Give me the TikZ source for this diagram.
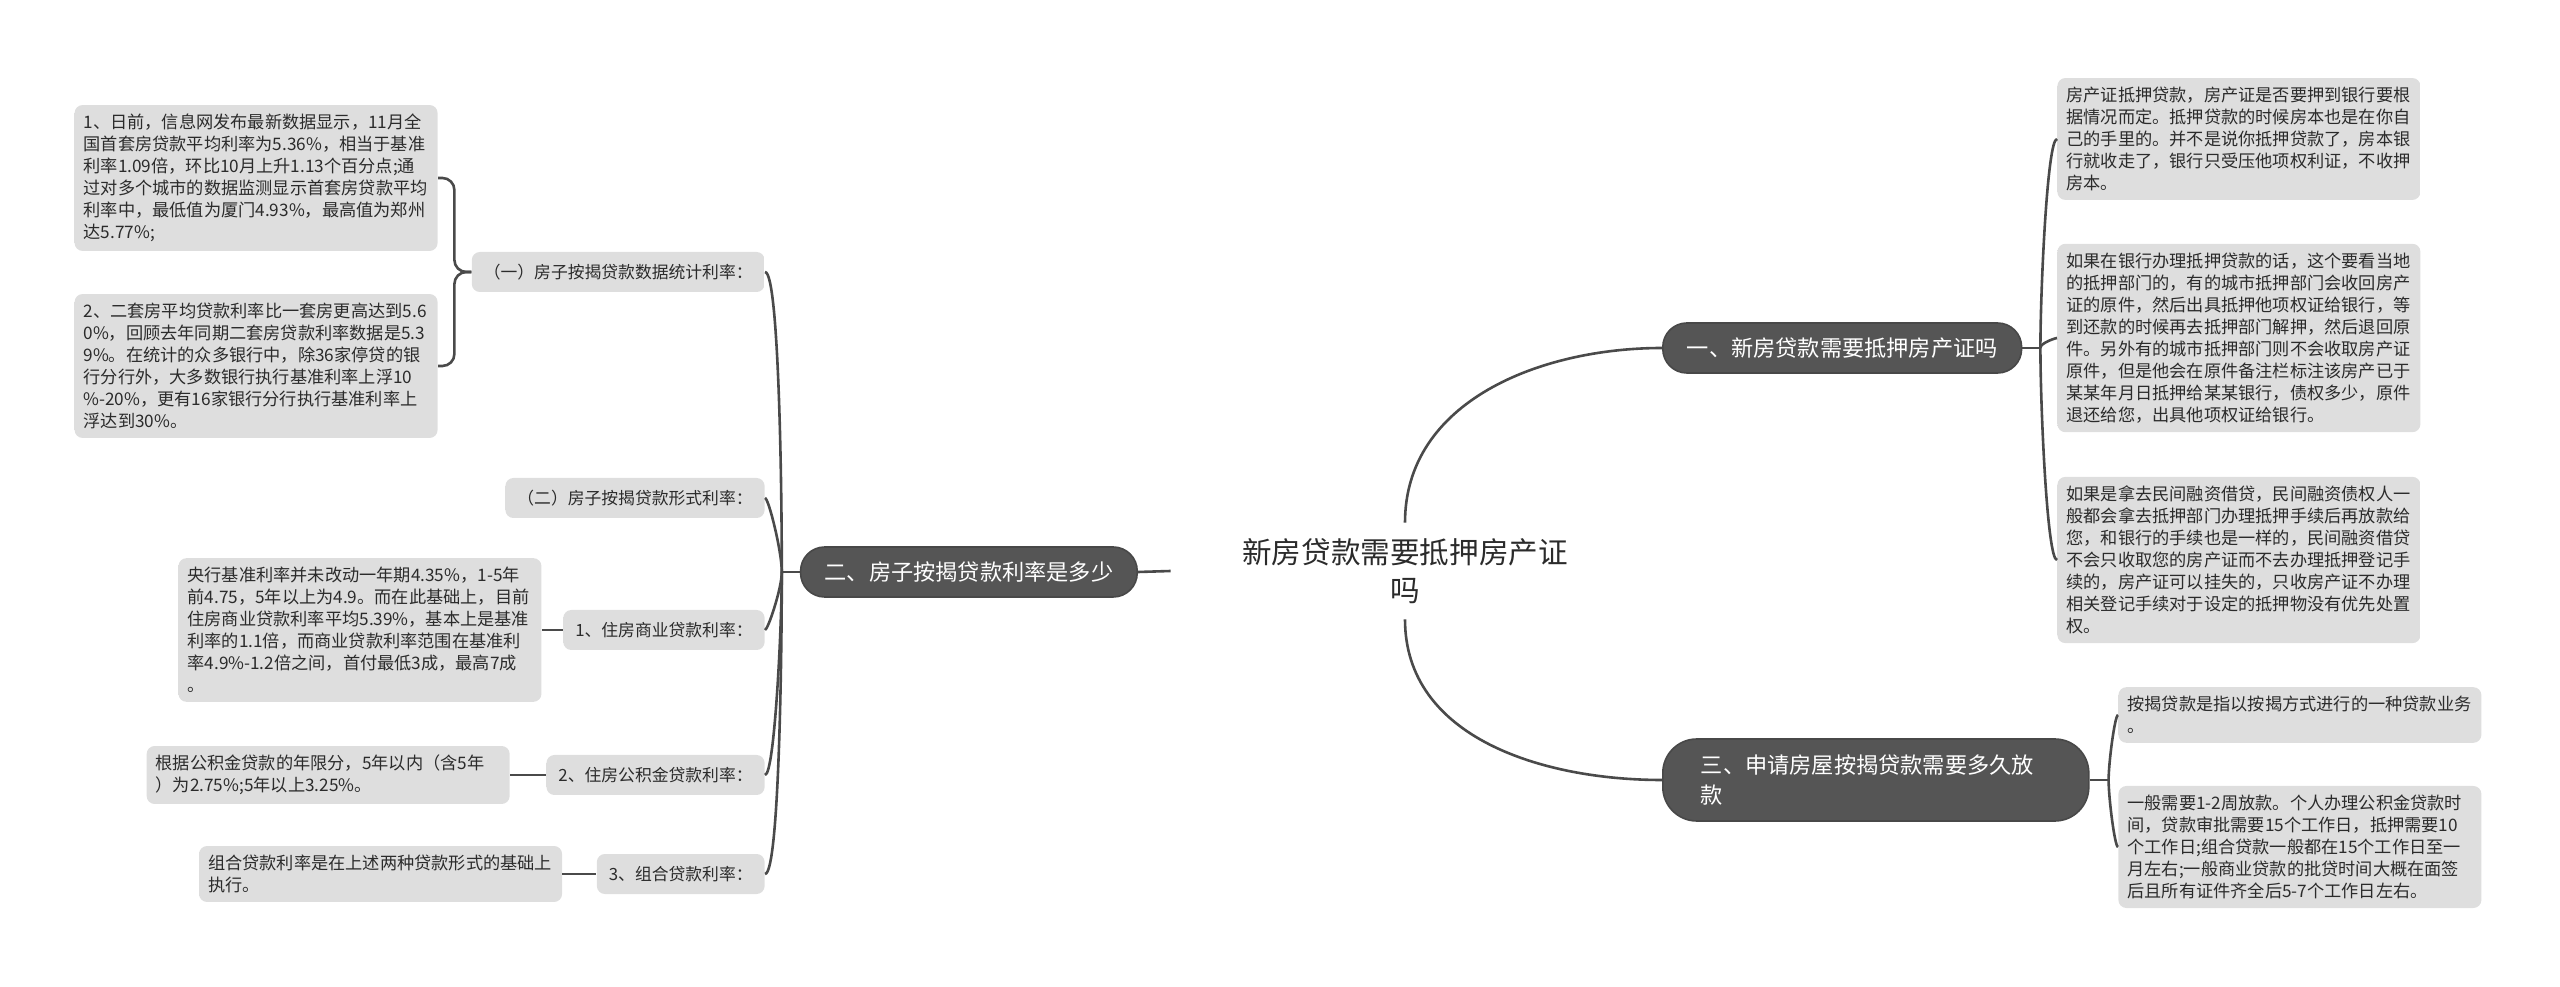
\documentclass[tikz,border=0pt]{standalone}
\usepackage{fontspec}
\setmainfont{Noto Sans CJK SC}
\usetikzlibrary{positioning}
\definecolor{leafgray}{HTML}{DEDEDE}
\definecolor{topicgray}{HTML}{555555}
\definecolor{linegray}{HTML}{4A4A4A}
\definecolor{inkgray}{HTML}{2B2B2B}
\tikzset {
    style leaf/.style={
        top color=leafgray,
        bottom color=leafgray,
        draw=none,
        rectangle, % Set the shape as a rectangle
        rounded corners=4pt,
        text=inkgray,
        font=\fontsize{8.6}{11}\selectfont,
        text width=172.5pt,
        inner xsep=4.5pt,
        inner ysep=4.5pt,
        align=left,
    },
    style sub/.style={
        top color=leafgray,
        bottom color=leafgray,
        draw=none,
        rectangle, % Set the shape as a rectangle
        rounded corners=4pt,
        text=inkgray,
        font=\fontsize{8.4}{10}\selectfont,
        inner xsep=6pt,
        minimum height=20pt,
    },
    style topic/.style={
        top color=topicgray,
        bottom color=topicgray,
        draw=topicgray!85!black,
        thick,
        text=white,
        rectangle, % Set the shape as a rectangle
        rounded corners=12pt,
        font=\fontsize{11.1}{15}\selectfont,
        inner xsep=12pt,
        minimum height=25pt,
        align=left,
    },
    style root/.style={
        text=inkgray,
        font=\fontsize{14.8}{19}\selectfont,
        minimum width=234pt,
        minimum height=48pt,
        align=center,
    },
    style link/.style={draw=linegray, line width=1.3pt},
    curve ru/.style={out=90, in=180, out looseness=0.7, in looseness=0.12},
    curve rd/.style={out=-90, in=180, out looseness=0.7, in looseness=0.12},
    curve lu/.style={out=90, in=0, out looseness=0.7, in looseness=0.12},
    curve ld/.style={out=-90, in=0, out looseness=0.7, in looseness=0.12},
}

\begin{document}
\begin{tikzpicture}[x=0.5pt, y=0.5pt]
    \useasboundingbox (0,0) rectangle (2560,986);
    % centre
    \node[style root] (root) at (1405,415) {新房贷款需要抵押房产证\\吗};
    % left branch
    \node[style topic, anchor=east] (n2) at (1138,414) {二、房子按揭贷款利率是多少};
    \node[style sub, anchor=east] (s1) at (765,714) {（一）房子按揭贷款数据统计利率：};
    \node[style sub, anchor=east] (s2) at (765,488) {（二）房子按揭贷款形式利率：};
    \node[style sub, anchor=east] (s3) at (765,356) {1、住房商业贷款利率：};
    \node[style sub, anchor=east] (s4) at (765,211) {2、住房公积金贷款利率：};
    \node[style sub, anchor=east] (s5) at (765,112) {3、组合贷款利率：};
    \node[style leaf, anchor=east] (l1) at (438,808) {
        1、日前，信息网发布最新数据显示，11月全\\
        国首套房贷款平均利率为5.36\%，相当于基准\\
        利率1.09倍，环比10月上升1.13个百分点;通\\
        过对多个城市的数据监测显示首套房贷款平均\\
        利率中，最低值为厦门4.93\%，最高值为郑州\\
        达5.77\%;};
    \node[style leaf, anchor=east] (l2) at (438,620) {
        2、二套房平均贷款利率比一套房更高达到5.6\\
        0\%，回顾去年同期二套房贷款利率数据是5.3\\
        9\%。在统计的众多银行中，除36家停贷的银\\
        行分行外，大多数银行执行基准利率上浮10\\
        \%-20\%，更有16家银行分行执行基准利率上\\
        浮达到30\%。};
    \node[style leaf, left=10.5pt of s3] (l3) {
        央行基准利率并未改动一年期4.35\%，1-5年\\
        前4.75，5年以上为4.9。而在此基础上，目前\\
        住房商业贷款利率平均5.39\%，基本上是基准\\
        利率的1.1倍，而商业贷款利率范围在基准利\\
        率4.9\%-1.2倍之间，首付最低3成，最高7成\\
        。};
    \node[style leaf, left=18pt of s4] (l4) {
        根据公积金贷款的年限分，5年以内（含5年\\
        ）为2.75\%;5年以上3.25\%。};
    \node[style leaf, left=17pt of s5] (l5) {
        组合贷款利率是在上述两种贷款形式的基础上\\
        执行。};
    % right branches
    \node[style topic, anchor=west] (n1) at (1662,638) {一、新房贷款需要抵押房产证吗};
    \node[style topic, anchor=west, text width=175pt, inner xsep=19pt, minimum height=41pt, rounded corners=17pt] (n3) at (1662,206) {三、申请房屋按揭贷款需要多久放\\款};
    \node[style leaf, anchor=west] (r1) at (2057,847) {
        房产证抵押贷款，房产证是否要押到银行要根\\
        据情况而定。抵押贷款的时候房本也是在你自\\
        己的手里的。并不是说你抵押贷款了，房本银\\
        行就收走了，银行只受压他项权利证，不收押\\
        房本。};
    \node[style leaf, anchor=west] (r2) at (2057,648) {
        如果在银行办理抵押贷款的话，这个要看当地\\
        的抵押部门的，有的城市抵押部门会收回房产\\
        证的原件，然后出具抵押他项权证给银行，等\\
        到还款的时候再去抵押部门解押，然后退回原\\
        件。另外有的城市抵押部门则不会收取房产证\\
        原件，但是他会在原件备注栏标注该房产已于\\
        某某年月日抵押给某某银行，债权多少，原件\\
        退还给您，出具他项权证给银行。};
    \node[style leaf, anchor=west] (r3) at (2057,426) {
        如果是拿去民间融资借贷，民间融资债权人一\\
        般都会拿去抵押部门办理抵押手续后再放款给\\
        您，和银行的手续也是一样的，民间融资借贷\\
        不会只收取您的房产证而不去办理抵押登记手\\
        续的，房产证可以挂失的，只收房产证不办理\\
        相关登记手续对于设定的抵押物没有优先处置\\
        权。};
    \node[style leaf, anchor=west] (r4) at (2118,271) {
        按揭贷款是指以按揭方式进行的一种贷款业务\\
        。};
    \node[style leaf, anchor=west] (r5) at (2118,139) {
        一般需要1-2周放款。个人办理公积金贷款时\\
        间，贷款审批需要15个工作日，抵押需要10\\
        个工作日;组合贷款一般都在15个工作日至一\\
        月左右;一般商业贷款的批贷时间大概在面签\\
        后且所有证件齐全后5-7个工作日左右。};

    % connectors
    \draw[style link] (n2.east) -- (root.west);
    \draw[style link] (root.north) to[out=90, in=180] (n1.west);
    \draw[style link] (root.south) to[out=-90, in=180] (n3.west);

    \draw[style link] (n2.west) -- ++(-18,0) coordinate (j2);
    \draw[style link] (j2) to[curve lu] (s1.east);
    \draw[style link] (j2) to[curve lu] (s2.east);
    \draw[style link] (j2) to[curve ld] (s3.east);
    \draw[style link] (j2) to[curve ld] (s4.east);
    \draw[style link] (j2) to[curve ld] (s5.east);
    \draw[style link, rounded corners=6pt] (s1.west) -- ++(-17,0) |- (l1.east);
    \draw[style link, rounded corners=6pt] (s1.west) -- ++(-17,0) |- (l2.east);
    \draw[style link] (l3.east) -- (s3.west);
    \draw[style link] (l4.east) -- (s4.west);
    \draw[style link] (l5.east) -- (s5.west);

    \draw[style link] (n1.east) -- ++(18,0) coordinate (j1);
    \draw[style link] (j1) to[curve ru] (r1.west);
    \draw[style link] (j1) to[curve ru] (r2.west);
    \draw[style link] (j1) to[curve rd] (r3.west);

    \draw[style link] (n3.east) -- ++(19,0) coordinate (j3);
    \draw[style link] (j3) to[curve ru] (r4.west);
    \draw[style link] (j3) to[curve rd] (r5.west);
\end{tikzpicture}
\end{document}
